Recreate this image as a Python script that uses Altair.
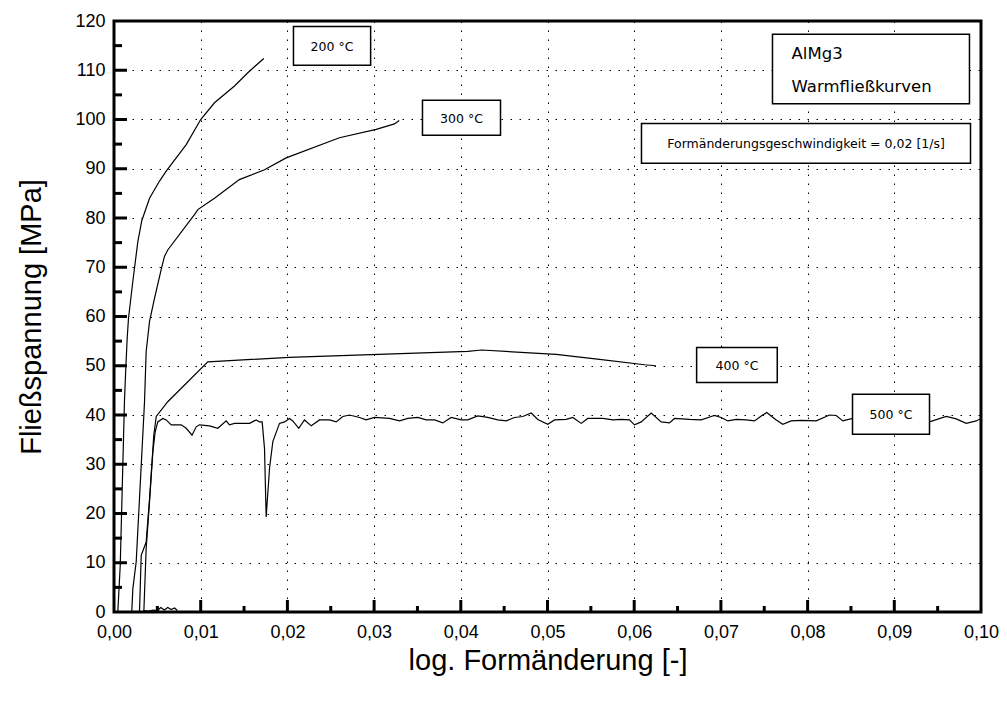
import altair as alt
import pandas as pd

# ---------------- data ----------------
x_200 = [0.00044, 0.00072, 0.00121, 0.00136, 0.00152, 0.00167, 0.00217, 0.00275, 0.00321, 0.0041,
         0.00525, 0.00602, 0.00833, 0.0100, 0.01159, 0.0139, 0.01543, 0.01728]
y_200 = [0, 9.5, 43, 49.5, 55.6, 59.6, 67.1, 75.2, 79.5, 84,
         87.5, 89.5, 94.9, 100, 103.4, 106.8, 109.5, 112.4]

x_300 = [0.00205, 0.00217, 0.00256, 0.00294, 0.00352, 0.00371, 0.0041, 0.00467, 0.00544, 0.00582,
         0.0062, 0.00928, 0.00967, 0.01159, 0.01446, 0.01736, 0.01986, 0.026, 0.03024, 0.03235, 0.0329]
y_300 = [0, 4.7, 10.2, 23, 42.7, 52.9, 59, 63.7, 69.5, 72.2,
         73.5, 80.7, 81.7, 84, 87.8, 89.8, 92.2, 96.3, 98, 99.1, 99.8]

x_400 = [0.00294, 0.00314, 0.00371, 0.0041, 0.00459, 0.00487, 0.0062, 0.01082, 0.0202, 0.0305,
         0.0408, 0.0424, 0.051, 0.056, 0.0612, 0.0625]
y_400 = [0, 11.5, 14.2, 23, 35.9, 39.7, 42.7, 50.8, 51.7, 52.3,
         52.9, 53.2, 52.3, 51.3, 50.2, 50.0]

x_500 = [0.00344, 0.00371, 0.0041, 0.00448, 0.00475, 0.00505, 0.00563, 0.00602, 0.0066, 0.00775,
         0.00833, 0.009, 0.00948, 0.00986, 0.01101, 0.01197, 0.01294, 0.01332, 0.0139, 0.01563,
         0.0164, 0.01678, 0.01709, 0.01736, 0.01755, 0.01794, 0.01832, 0.01909, 0.01967, 0.02024,
         0.02062, 0.02131, 0.02197, 0.02275, 0.0237, 0.02486, 0.02563, 0.02639, 0.02716, 0.02832,
         0.02909, 0.03005, 0.03178, 0.03293, 0.03389, 0.03504, 0.03601, 0.03697, 0.03792, 0.03889,
         0.04005, 0.04081, 0.04196, 0.04311, 0.04427, 0.04524, 0.04619, 0.04715, 0.04812, 0.04888,
         0.05003, 0.05081, 0.05216, 0.05292, 0.05389, 0.05465, 0.05638, 0.05753, 0.0585, 0.05946,
         0.06003, 0.06081, 0.06196, 0.06311, 0.06407, 0.06465, 0.06638, 0.06773, 0.06888, 0.06926,
         0.07003, 0.0708, 0.07176, 0.07292, 0.07388, 0.07465, 0.07529, 0.07638, 0.07714, 0.07811,
         0.07926, 0.08099, 0.08253, 0.0833, 0.08406, 0.08521, 0.087, 0.089, 0.091, 0.09406,
         0.09599, 0.09714, 0.09829, 0.09945, 0.1]
y_500 = [0, 12.9, 22.4, 32.5, 36.6, 38.6, 39.3, 39.0, 38, 38,
         37.3, 35.9, 37.6, 38, 37.8, 37.3, 38.8, 38, 38.3, 38.3,
         39, 38.6, 38.6, 33.2, 19.3, 29.2, 34.6, 38.3, 38.6, 39.3,
         38.8, 37.3, 39, 37.8, 39, 39, 38.6, 39.7, 40, 39.5,
         39, 39.5, 39.3, 38.8, 39.3, 39.5, 39, 39, 38.4, 39.5,
         39, 39, 39.8, 39.5, 39, 38.8, 39.5, 39.7, 40.4, 39.1,
         38.1, 39, 39.1, 39.5, 38.3, 39.3, 39.3, 39, 39.1, 39,
         38, 38.6, 40.4, 38.6, 38.4, 39.3, 39.1, 39, 39.7, 39.9,
         39.5, 38.8, 39.1, 39, 38.8, 39.8, 40.5, 39, 38.1, 38.8,
         38.9, 38.8, 40, 39.9, 38.8, 39.3, 39.5, 39.2, 39.4, 38.6,
         39.7, 39.2, 38.3, 38.8, 39.3]

x_base = [0.0035, 0.0040, 0.0045, 0.0050, 0.0054, 0.0058, 0.0062, 0.0066, 0.0070, 0.0073]
y_base = [0.3, 0.2, 0.4, 0.3, 0.9, 0.4, 0.9, 0.5, 0.8, 0.3]

# label boxes
box_names = ["200 °C", "300 °C", "400 °C", "500 °C", "AlMg3", "rate"]
box_x1 = [0.0207, 0.03558, 0.0672, 0.08518, 0.07595, 0.06084]
box_x2 = [0.0296, 0.04458, 0.0765, 0.09406, 0.09867, 0.09879]
box_y1 = [118.9, 103.9, 53.7, 44.2, 117.3, 99.2]
box_y2 = [111.0, 96.8, 46.6, 36.1, 103.2, 91.1]

small_text = ["200 °C", "300 °C", "400 °C", "500 °C", "Formänderungsgeschwindigkeit = 0,02 [1/s]"]
small_x = [0.02514, 0.04008, 0.07186, 0.08962, 0.07982]
small_y = [114.8, 100.2, 50.05, 40.1, 95.1]

big_text = ["AlMg3", "Warmfließkurven"]
big_x = [0.07815, 0.07815]
big_y = [113.4, 106.5]

x_ticks = [round(i * 0.01, 2) for i in range(11)]
y_ticks = list(range(0, 121, 10))
x_major = [round(i * 0.01, 2) for i in range(1, 10)]
x_minor = [round(0.005 + i * 0.01, 3) for i in range(10)]
y_major = list(range(10, 120, 10))
y_minor = list(range(5, 120, 10))

# ---------------- build ----------------
rows = []
for name, xs, ys in [("200", x_200, y_200), ("300", x_300, y_300), ("400", x_400, y_400),
                     ("500", x_500, y_500), ("base", x_base, y_base)]:
    for i, (a, b) in enumerate(zip(xs, ys)):
        rows.append({"series": name, "i": i, "x": a, "y": b})
df = pd.DataFrame(rows)

FONT = "Liberation Sans"
BOXFONT = "DejaVu Sans"
xscale = alt.Scale(domain=[0, 0.1], nice=False, zero=False)
yscale = alt.Scale(domain=[0, 120], nice=False)

XT = "log. Formänderung [-]"
YT = "Fließspannung [MPa]"

xaxis = alt.Axis(
    values=x_ticks, format=".2f", labelExpr="replace(datum.label, '.', ',')",
    title=XT, grid=True, gridDash=[1.5, 7.5], gridColor="black",
    gridWidth=1, ticks=False, domain=False, labelFont=FONT, labelFontSize=18,
    labelColor="black", labelPadding=11, titleFont=FONT, titleFontSize=29,
    titleFontWeight="normal", titleColor="black", titlePadding=5,
    labelFlush=False, labelOverlap=False)
yaxis = alt.Axis(
    values=y_ticks, title=YT, grid=True, gridDash=[1.5, 7.5],
    gridColor="black", gridWidth=1, ticks=False, domain=False, labelFont=FONT,
    labelFontSize=18, labelColor="black", labelPadding=9, titleFont=FONT,
    titleFontSize=29, titleFontWeight="normal", titleColor="black", titlePadding=28,
    labelFlush=False, labelOverlap=False)


def X(f):
    return alt.X(f, scale=xscale, axis=xaxis, title=XT)


def Y(f):
    return alt.Y(f, scale=yscale, axis=yaxis, title=YT)


W, H = 867, 591

lines = alt.Chart(df).mark_line(color="black", strokeWidth=1.2, clip=True).encode(
    x=X("x:Q"), y=Y("y:Q"), detail="series:N", order="i:Q")

boxes_df = pd.DataFrame({"name": box_names, "x1": box_x1, "x2": box_x2, "y1": box_y1, "y2": box_y2})
boxes = alt.Chart(boxes_df).mark_rect(fill="white", stroke="black", strokeWidth=1.5).encode(
    x=X("x1:Q"), x2="x2:Q", y=Y("y1:Q"), y2="y2:Q")

st_df = pd.DataFrame({"t": small_text, "x": small_x, "y": small_y})
stext = alt.Chart(st_df).mark_text(font=BOXFONT, fontSize=12.5, color="black", align="center",
                                   baseline="middle").encode(
    x=X("x:Q"), y=Y("y:Q"), text="t:N")

bt_df = pd.DataFrame({"t": big_text, "x": big_x, "y": big_y})
btext = alt.Chart(bt_df).mark_text(font=BOXFONT, fontSize=16.5, color="black", align="left",
                                   baseline="middle").encode(
    x=X("x:Q"), y=Y("y:Q"), text="t:N")

xmaj = alt.Chart(pd.DataFrame({"v": x_major})).mark_rule(color="black", strokeWidth=3).encode(
    x=X("v:Q"), y=alt.value(H), y2=alt.value(H - 12))
xmin = alt.Chart(pd.DataFrame({"v": x_minor})).mark_rule(color="black", strokeWidth=3).encode(
    x=X("v:Q"), y=alt.value(H), y2=alt.value(H - 6))
ymaj = alt.Chart(pd.DataFrame({"v": y_major})).mark_rule(color="black", strokeWidth=3).encode(
    y=Y("v:Q"), x=alt.value(0), x2=alt.value(13))
ymin = alt.Chart(pd.DataFrame({"v": y_minor})).mark_rule(color="black", strokeWidth=3).encode(
    y=Y("v:Q"), x=alt.value(0), x2=alt.value(8))

chart = alt.layer(lines, boxes, stext, btext, xmaj, xmin, ymaj, ymin).properties(
    width=W, height=H,
    autosize=alt.AutoSizeParams(type="none"),
    padding={"left": 114, "top": 21, "right": 1007 - 114 - W, "bottom": 704 - 21 - H},
    background="white",
).configure_view(stroke="black", strokeWidth=3)

chart.save("out.html", embed_options={"renderer": "svg", "actions": False})
